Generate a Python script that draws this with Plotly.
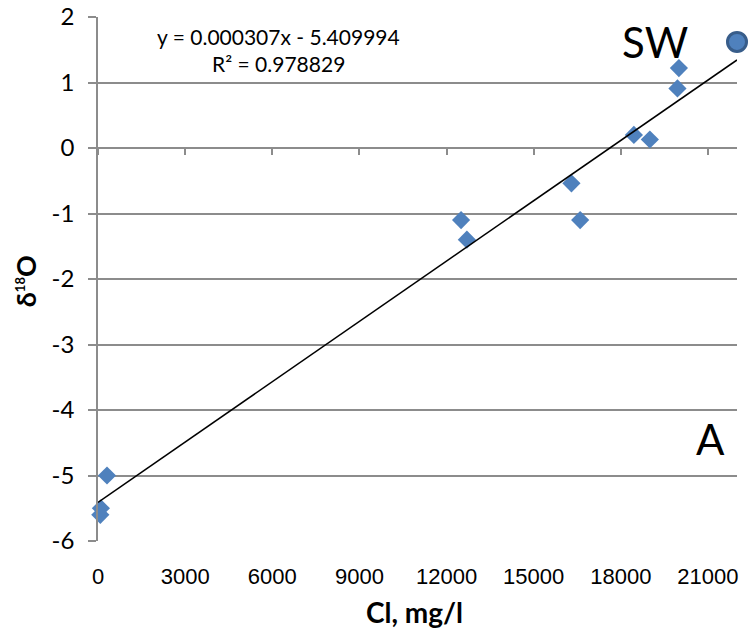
import plotly.graph_objects as go

# Data
cl = [80, 100, 310, 12500, 12700, 16300, 16600, 18450, 19000, 19950, 20000]
d18o = [-5.6, -5.5, -5.0, -1.1, -1.4, -0.54, -1.1, 0.2, 0.13, 0.91, 1.22]
sw_cl = [22000]
sw_d18o = [1.62]
slope = 0.000307
intercept = -5.409994
trend_x = [0, 22000]
x_ticks = [0, 3000, 6000, 9000, 12000, 15000, 18000, 21000]
y_ticks = [-6, -5, -4, -3, -2, -1, 0, 1, 2]

trend_y = [slope * v + intercept for v in trend_x]

BLUE = "#4F81BD"
GRID = "#8c8c8c"
CAL = "Lato, 'Open Sans', sans-serif"
ARIAL = "'Liberation Sans', Arial, sans-serif"

fig = go.Figure()
fig.add_trace(go.Scatter(x=trend_x, y=trend_y, mode="lines",
                         line=dict(color="black", width=1.5),
                         xaxis="x2", hoverinfo="skip", showlegend=False))
fig.add_trace(go.Scatter(x=cl, y=d18o, mode="markers",
                         marker=dict(symbol="diamond", size=14, color=BLUE),
                         cliponaxis=False, showlegend=False))
fig.add_trace(go.Scatter(x=sw_cl, y=sw_d18o, mode="markers",
                         marker=dict(symbol="circle", size=19, color=BLUE,
                                     line=dict(color="#385D8A", width=3)),
                         cliponaxis=False, showlegend=False))

fig.update_layout(
    width=750, height=637,
    margin=dict(l=98, r=13, t=17, b=96),
    plot_bgcolor="white", paper_bgcolor="white",
    showlegend=False,
    xaxis=dict(range=[0, 22000], tickvals=x_ticks, ticktext=[str(v) for v in x_ticks],
               showgrid=False, zeroline=False, showline=False, ticks="",
               automargin=False,
               tickfont=dict(family=ARIAL, size=22, color="black"),
               ticklabelstandoff=20),
    xaxis2=dict(range=[0, 22000], overlaying="x", anchor="free", position=0.75,
                side="bottom", tickvals=x_ticks, showticklabels=False,
                ticks="outside", ticklen=6, tickwidth=1.5, tickcolor=GRID,
                automargin=False,
                showgrid=False, zeroline=False, showline=False),
    yaxis=dict(range=[-6, 2], tickvals=y_ticks, ticktext=[str(v) for v in y_ticks],
               showgrid=True, gridcolor=GRID, gridwidth=1.5, zeroline=False,
               showline=True, linecolor=GRID, linewidth=1.5,
               ticks="outside", ticklen=8, tickwidth=1.5, tickcolor=GRID,
               automargin=False,
               tickfont=dict(family=CAL, size=24, color="black"),
               ticklabelstandoff=9),
)

fig.add_annotation(x=6200, y=1.71, text="y = 0.000307x - 5.409994", showarrow=False,
                   font=dict(family=CAL, size=21, color="black"))
fig.add_annotation(x=6200, y=1.29, text="R² = 0.978829", showarrow=False,
                   font=dict(family=CAL, size=21, color="black"))
fig.add_annotation(x=19170, y=1.62, text="SW", showarrow=False,
                   font=dict(family=CAL, size=42, color="black"))
fig.add_annotation(x=21100, y=-4.45, text="A", showarrow=False,
                   font=dict(family=CAL, size=42, color="black"))
fig.add_annotation(xref="paper", yref="paper", x=-0.114, y=0.496,
                   xanchor="center", yanchor="middle",
                   text="<b>δ<sup><span style='font-size:13px'>18</span></sup>O</b>",
                   textangle=-90, showarrow=False,
                   font=dict(family=CAL, size=27, color="black"))
fig.add_annotation(xref="paper", yref="paper", x=0.495, y=-0.136,
                   xanchor="center", yanchor="middle",
                   text="<b>Cl, mg/l</b>", showarrow=False,
                   font=dict(family=CAL, size=28, color="black"))

fig.write_html("out.html")
